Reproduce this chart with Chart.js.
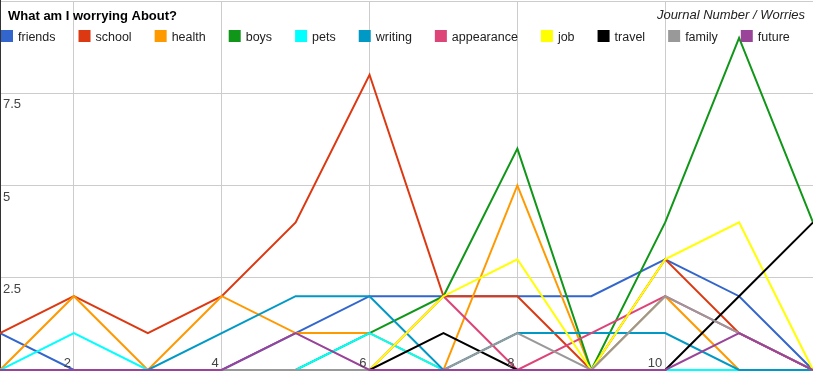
<!DOCTYPE html>
<html>
<head>
<meta charset="utf-8">
<script src="https://cdn.jsdelivr.net/npm/chart.js@4"></script>
<style>
    body { margin: 0; background: #fff; }
    #wrap { width: 813px; height: 371px; }
</style>
</head>
<body>
<div id="wrap"><canvas id="chart" width="813" height="371"></canvas></div>
<script>
// Journal numbers (x axis)
const journals = [1, 2, 3, 4, 5, 6, 7, 8, 9, 10, 11, 12];

// Worries per journal, one array per series
const friends    = [1, 0, 0, 0, 1, 2, 2, 2, 2, 3, 2, 0];
const school     = [1, 2, 1, 2, 4, 8, 2, 2, 0, 3, 1, 0];
const health     = [0, 2, 0, 2, 1, 1, 0, 5, 0, 2, 0, 0];
const boys       = [0, 0, 0, 0, 0, 1, 2, 6, 0, 4, 9, 4];
const pets       = [0, 1, 0, 0, 0, 1, 0, 0, 0, 0, 0, 0];
const writing    = [0, 0, 0, 1, 2, 2, 0, 1, 1, 1, 0, 0];
const appearance = [0, 0, 0, 0, 0, 0, 2, 0, 1, 2, 1, 0];
const job        = [0, 0, 0, 0, 0, 0, 2, 3, 0, 3, 4, 0];
const travel     = [0, 0, 0, 0, 0, 0, 1, 0, 0, 0, 2, 4];
const family     = [0, 0, 0, 0, 0, 0, 0, 1, 0, 2, 1, 0];
const future     = [0, 0, 0, 0, 1, 0, 0, 0, 0, 0, 1, 0];

const seriesNames = ['friends', 'school', 'health', 'boys', 'pets', 'writing',
    'appearance', 'job', 'travel', 'family', 'future'];
const seriesData = [friends, school, health, boys, pets, writing,
    appearance, job, travel, family, future];
const seriesColors = ['#3366cc', '#dc3912', '#ff9900', '#109618', '#00ffff', '#0099c6',
    '#dd4477', '#ffff00', '#000000', '#999999', '#994499'];

// tick labels
const xTicks = [2, 4, 6, 8, 10];
const yTicks = [2.5, 5, 7.5];

const title = 'What am I worrying About?';
const subtitle = 'Journal Number / Worries';

// Draws the titles, the legend row and the in-chart tick labels
const overlayPlugin = {
    id: 'overlay',
    afterDraw(chart) {
        const ctx = chart.ctx;
        const xs = chart.scales.x;
        const ys = chart.scales.y;
        ctx.save();

        // tick labels inside the plot
        ctx.font = '13px "Liberation Sans", Arial, sans-serif';
        ctx.fillStyle = '#444';
        ctx.textAlign = 'right';
        ctx.textBaseline = 'alphabetic';
        xTicks.forEach(t => {
            ctx.fillText(String(t), xs.getPixelForValue(t) - 3, ys.getPixelForValue(0) - 3);
        });
        ctx.textAlign = 'left';
        yTicks.forEach(t => {
            ctx.fillText(String(t), 3, ys.getPixelForValue(t) + 15);
        });

        // title + subtitle
        ctx.fillStyle = '#000';
        ctx.font = 'bold 13px "Liberation Sans", Arial, sans-serif';
        ctx.fillText(title, 8, 19.5);
        ctx.fillStyle = '#222';
        ctx.font = 'italic 13px "Liberation Sans", Arial, sans-serif';
        ctx.textAlign = 'right';
        ctx.fillText(subtitle, 805, 19);

        // legend
        ctx.textAlign = 'left';
        ctx.font = '12.5px "Liberation Sans", Arial, sans-serif';
        let x = 1;
        seriesNames.forEach((name, i) => {
            ctx.fillStyle = seriesColors[i];
            ctx.fillRect(x, 30, 12, 12);
            ctx.fillStyle = '#222';
            ctx.fillText(name, x + 17, 40.5);
            x += 17 + ctx.measureText(name).width + 23;
        });
        ctx.restore();
    }
};

const datasets = seriesNames.map((name, i) => ({
    label: name,
    data: journals.map((j, k) => ({ x: j, y: seriesData[i][k] })),
    borderColor: seriesColors[i],
    backgroundColor: seriesColors[i],
    borderWidth: 2,
    pointRadius: 0,
    tension: 0,
    clip: false,
    order: seriesNames.length - i // later series drawn on top
}));

new Chart(document.getElementById('chart'), {
    type: 'line',
    data: { datasets: datasets },
    options: {
        responsive: false,
        animation: false,
        layout: { padding: { top: 1, bottom: 1, left: 0, right: 0 } },
        plugins: {
            legend: { display: false },
            tooltip: { enabled: false }
        },
        scales: {
            x: {
                type: 'linear',
                min: 1,
                max: 12,
                afterBuildTicks: (scale) => { scale.ticks = [2, 4, 6, 8, 10, 12].map(v => ({ value: v })); },
                ticks: { display: false },
                grid: { color: '#cccccc', drawTicks: false },
                border: { display: false }
            },
            y: {
                min: 0,
                max: 10,
                ticks: { display: false, stepSize: 2.5 },
                grid: { color: '#cccccc', drawTicks: false },
                border: { display: true, color: '#333333', width: 2 }
            }
        }
    },
    plugins: [overlayPlugin]
});
</script>
</body>
</html>
